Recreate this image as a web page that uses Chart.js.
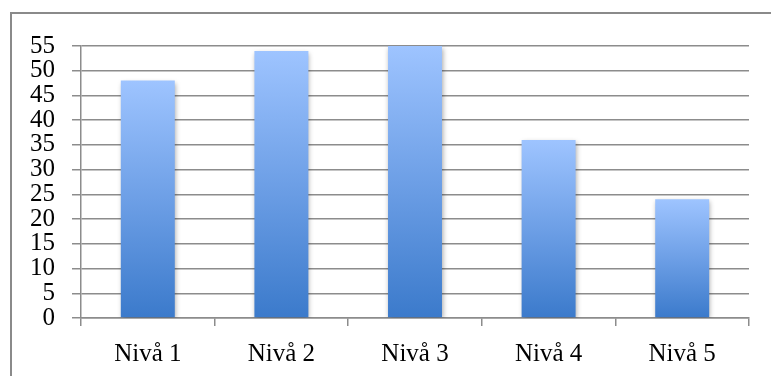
<!DOCTYPE html>
<html>
<head>
<meta charset="utf-8">
<script src="https://cdn.jsdelivr.net/npm/chart.js@4"></script>
<style>
  html, body { margin: 0; padding: 0; background: #fff; }
  #wrap { width: 771px; height: 376px; position: relative; }
</style>
</head>
<body>
<div id="wrap"><canvas id="myChart"></canvas></div>
<script>
const categories = ['Nivå 1', 'Nivå 2', 'Nivå 3', 'Nivå 4', 'Nivå 5'];
const values = [48, 54, 55, 36, 24];
const yTicks = [0, 5, 10, 15, 20, 25, 30, 35, 40, 45, 50, 55];

const gridColor = '#8c8c8c';
const font = { family: '"Liberation Serif", serif', size: 25, lineHeight: 1 };

// vertical gradient per bar, light at its top and dark at the base
function barGradient(context) {
  const chart = context.chart;
  const yScale = chart.scales.y;
  if (!chart.chartArea || !yScale) return '#6c9ee6';
  const top = yScale.getPixelForValue(context.raw);
  const bottom = yScale.getPixelForValue(0);
  const g = chart.ctx.createLinearGradient(0, top, 0, bottom);
  g.addColorStop(0, '#9ec4ff');
  g.addColorStop(0.5, '#6d9fe6');
  g.addColorStop(1, '#3b7acb');
  return g;
}

// frame around the chart, plus a soft drop shadow under the bars
const framePlugin = {
  id: 'frame',
  beforeDraw(chart) {
    const ctx = chart.ctx;
    ctx.save();
    ctx.strokeStyle = '#8a8a8a';
    ctx.lineWidth = 2;
    ctx.strokeRect(11, 13, 800, 420);
    ctx.restore();
  },
  beforeDatasetsDraw(chart) {
    const ctx = chart.ctx;
    ctx.save();
    ctx.shadowColor = 'rgba(0,0,0,0.35)';
    ctx.shadowBlur = 5;
    ctx.shadowOffsetX = 1;
    ctx.shadowOffsetY = 2;
  },
  afterDatasetsDraw(chart) {
    chart.ctx.restore();
  }
};

const ctx = document.getElementById('myChart').getContext('2d');
new Chart(ctx, {
  type: 'bar',
  data: {
    labels: categories,
    datasets: [{
      data: values,
      backgroundColor: barGradient,
      borderWidth: 0,
      barPercentage: 0.404,
      categoryPercentage: 1
    }]
  },
  options: {
    responsive: true,
    maintainAspectRatio: false,
    animation: false,
    layout: { padding: { top: 46, right: 22, bottom: 0, left: 0 } },
    plugins: {
      legend: { display: false },
      tooltip: { enabled: false }
    },
    scales: {
      x: {
        grid: {
          display: true,
          offset: true,
          drawOnChartArea: false,
          color: gridColor,
          lineWidth: 1.5,
          tickLength: 8
        },
        border: { color: gridColor, width: 1.5 },
        ticks: { color: '#000', font: font, padding: 16, maxRotation: 0 },
        afterFit(scale) { scale.height = 58; }
      },
      y: {
        min: 0,
        max: 55,
        afterBuildTicks(scale) { scale.ticks = yTicks.map(v => ({ value: v })); },
        grid: { color: gridColor, lineWidth: 1.5, tickLength: 9 },
        border: { color: gridColor, width: 1.5 },
        ticks: { color: '#000', font: font, padding: 17, autoSkip: false },
        afterFit(scale) { scale.width = 81; }
      }
    }
  },
  plugins: [framePlugin]
});
</script>
</body>
</html>
